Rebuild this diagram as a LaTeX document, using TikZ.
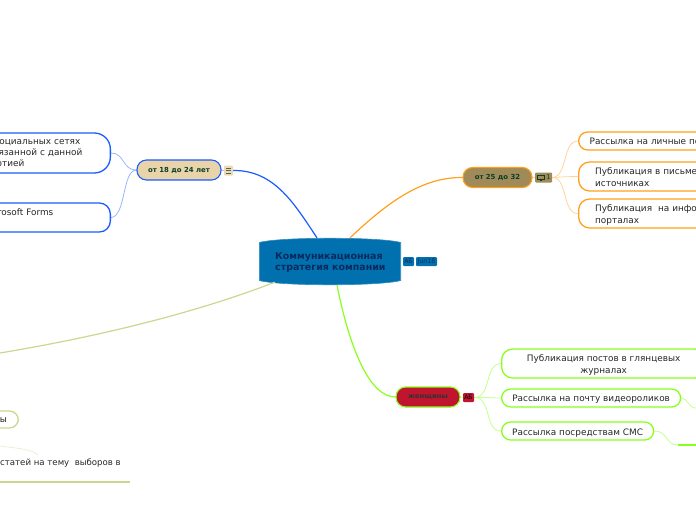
\documentclass[tikz,border=0pt]{standalone}
\usepackage{fontspec}
\setmainfont{DejaVu Sans}
\usetikzlibrary{backgrounds,calc}
\definecolor{cblue}{HTML}{1A5CFF}
\definecolor{corange}{HTML}{FFA01E}
\definecolor{clime}{HTML}{88FF1E}
\definecolor{colive}{HTML}{C8D98F}
\definecolor{ctan}{HTML}{E8D4A8}
\definecolor{cbrown}{HTML}{A08A58}
\definecolor{cred}{HTML}{C0142F}
\definecolor{ccentral}{HTML}{0070AE}
\definecolor{cnavy}{HTML}{0A2A5E}
\definecolor{cdkgreen}{HTML}{0B3D2A}
\newcommand\lowerby[1]{\rule{0pt}{#1pt}}
\newcommand\padright[1]{\hspace*{#1pt}\mbox{}}
\tikzset{
  leaf/.style={draw=#1,line width=1.3pt,rounded corners=9pt,inner ysep=0pt,font=\fontsize{8.9}{11.3}\selectfont,text=black!85},
  topic/.style={draw=#1,line width=1.1pt,rounded corners=9.5pt,inner sep=0pt,font=\fontsize{6.9}{8}\selectfont\bfseries,text=cdkgreen},
  tagbox/.style={inner sep=0pt,rounded corners=1pt,font=\fontsize{6.2}{7}\selectfont,text=cnavy},
  mainlink/.style={line width=1.2pt},
  sublink/.style={line width=.8pt},
}
\begin{document}
\begin{tikzpicture}[x=1pt,y=-1pt]
\useasboundingbox (0,0) rectangle (696,520);
\clip (0,0) rectangle (696,520);
% central
\node[minimum width=142pt,minimum height=47pt,inner sep=0pt] (central) at (330,261.5) {};
\node[anchor=west,inner sep=0pt,align=left,text=cnavy,font=\fontsize{9.45}{11}\selectfont\bfseries] (centraltext) at (275,262.3) {Коммуникационная\\стратегия компании};
\begin{scope}[on background layer]
\filldraw[fill=ccentral,draw=ccentral!80!white,line width=.6pt] (259.3,242.5) .. controls (280,236.8) and (380,236.8) .. (400.7,242.5) -- (400.7,280.5) .. controls (380,286.2) and (280,286.2) .. (259.3,280.5) -- cycle;
\end{scope}
\node[tagbox,fill=ccentral,minimum width=11pt,minimum height=9pt] (tagab) at (408.5,261.5) {АБ};
\node[tagbox,fill=ccentral,minimum width=21pt,minimum height=9pt] (tagjun) at (426.5,261.5) {Jun18};
% topic 18-24
\node[topic=cblue,fill=ctan,minimum width=84pt,minimum height=20pt] (t18) at (179,170) {от 18 до 24 лет};
\node[tagbox,fill=ctan!85,minimum width=9pt,minimum height=10pt] (i18) at (228.5,170.5) {};
\draw[cdkgreen!70!ctan,line width=.7pt] (225.8,168) -- (231.2,168) (225.8,170.5) -- (231.2,170.5) (225.8,173) -- (231.2,173);
\node[leaf=cblue,anchor=east,text width=172pt,inner xsep=28pt,rounded corners=16pt,minimum height=40pt,align=right] (l1) at (111,153) {оциальных сетях\padright{2}\\язанной с данной\\отией\padright{58}};
\node[leaf=cblue,anchor=east,text width=172pt,inner xsep=28pt,rounded corners=11pt,minimum height=29pt,align=right] (l2) at (111,217.5) {rosoft Forms\padright{29}\\\mbox{}};
% topic 25-32
\node[topic=corange,fill=cbrown,minimum width=69pt,minimum height=20pt] (t25) at (497.5,177.5) {от 25 до 32};
\node[tagbox,fill=cbrown,minimum width=17pt,minimum height=10pt,font=\fontsize{6.5}{7}\selectfont,text=cdkgreen] (i25) at (543.5,177.5) {\hspace*{10pt}1};
\draw[cdkgreen,line width=.8pt] (537.5,175) rectangle (544,179);
\draw[cdkgreen,line width=.8pt] (539.5,180.5) -- (542,180.5);
\node[leaf=corange,anchor=west,text width=140pt,inner xsep=11pt,minimum height=18pt,align=left] (r1) at (578,141) {Рассылка на личные по};
\node[leaf=corange,anchor=west,text width=140pt,inner xsep=16.5pt,rounded corners=11pt,minimum height=29pt,align=left] (r2) at (578,176.5) {\lowerby{8}Публикация в письме\\источниках};
\node[leaf=corange,anchor=west,text width=140pt,inner xsep=16.5pt,rounded corners=11pt,minimum height=29pt,align=left] (r3) at (578,213.5) {\lowerby{10}Публикация\ \ на инфо\\порталах};
% topic women
\node[topic=clime,fill=cred,minimum width=64pt,minimum height=20pt,text=black!80] (tw) at (428,397) {женщины};
\node[tagbox,fill=cred,minimum width=11pt,minimum height=9pt,text=black] (iw) at (468.5,397.5) {АБ};
\node[leaf=clime,anchor=west,minimum width=204pt,minimum height=29pt,rounded corners=11pt,align=center] (w1) at (501,363.5) {\lowerby{10}Публикация постов в глянцевых\\журналах};
\node[leaf=clime,anchor=west,minimum width=179pt,minimum height=18pt] (w2) at (501,398) {\lowerby{9}Рассылка на почту видеороликов};
\node[leaf=clime,anchor=west,minimum width=152pt,minimum height=18pt] (w3) at (501,431) {\lowerby{10}Рассылка посредствам СМС};
\coordinate (w2end) at (696,408);
\coordinate (w3mid) at (678,445);
\coordinate (w3end) at (696,445);
% left, olive
\coordinate (oliveend) at (0,353);
\node[leaf=colive,anchor=east,text width=60pt,inner xsep=11.5pt,minimum height=17pt,align=right] (o1) at (19,419.5) {ты};
\node[anchor=east,inner sep=0pt,font=\fontsize{8.6}{11.3}\selectfont,text=black!85] (o2) at (121,463) {статей на тему\ \ выборов в};
\coordinate (o2left) at (0,482);
\coordinate (o2right) at (130,482);
\coordinate (fadeleft) at (0,446);
\coordinate (faderight) at (38,455);
\draw[colive,line width=1.1pt] (o2left) -- (o2right);
\draw[clime,line width=1.2pt] (w3mid) -- (w3end);
\begin{scope}[on background layer]
\draw[mainlink,cblue] (i18.east) .. controls (275,170) and (295,205) .. ([xshift=-13pt]central.north);
\draw[mainlink,corange] (t25.west) .. controls (420,177) and (385,205) .. ([xshift=20pt]central.north);
\draw[mainlink,clime] ([xshift=7pt]central.south) .. controls (350,350) and (370,397) .. (tw.west);
\draw[mainlink,colive] ([xshift=16pt,yshift=3pt]central.south west) .. controls (190,315) and (90,338) .. (oliveend);
\draw[sublink,cblue!45] (t18.west) .. controls (122,170) and (125,153) .. (l1.east);
\draw[sublink,cblue!45] (t18.west) .. controls (122,170) and (126,217) .. (l2.east);
\draw[sublink,corange!45] (t25.east) -- (i25.west);
\draw[sublink,corange!45] (i25.east) .. controls (568,177) and (562,141) .. (r1.west);
\draw[sublink,corange!45] (i25.east) .. controls (562,177) and (568,176.5) .. (r2.west);
\draw[sublink,corange!45] (i25.east) .. controls (568,177) and (562,214) .. (r3.west);
\draw[sublink,cblue!45] (t18.east) -- (i18.west);
\draw[sublink,clime!50] (tw.east) -- (iw.west);
\draw[sublink,clime!50] (iw.east) .. controls (492,397) and (484,364) .. (w1.west);
\draw[sublink,clime!50] (iw.east) .. controls (485,397) and (490,398) .. (w2.west);
\draw[sublink,clime!50] (iw.east) .. controls (492,397) and (484,431) .. (w3.west);
\draw[sublink,clime!50] (w2.east) .. controls (688,398) and (688,408) .. (w2end);
\draw[sublink,clime!50] (w3.east) .. controls (668,431) and (665,445) .. (w3mid);
\draw[sublink,colive!40] (fadeleft) .. controls (15,448) and (32,449) .. (faderight);
\end{scope}
\end{tikzpicture}
\end{document}
